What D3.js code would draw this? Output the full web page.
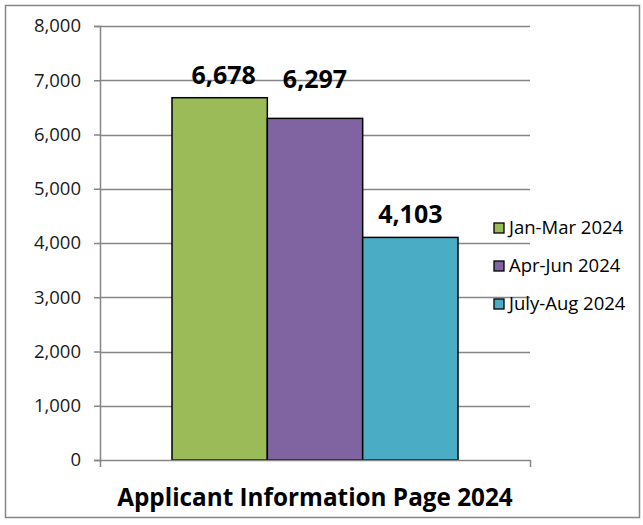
<!doctype html>
<html>
  <head>
    <meta charset="UTF-8">
    <title>Applicant Information Page 2024</title>
    <script src="https://d3js.org/d3.v7.min.js"></script>
    <style>
      body { margin: 0; background: #fff; }
      svg text { font-family: "Open Sans", Lato, sans-serif; fill: #000; }
      .tick text { font-size: 18.5px; fill: #1a1a1a; font-family: "Open Sans", Lato, sans-serif; }
    </style>
  </head>
  <body>
    <svg id="chart" width="643" height="525"></svg>
    <script>
      // chart data
      const categories = ["Jan-Mar 2024", "Apr-Jun 2024", "July-Aug 2024"];
      const values = [6678, 6297, 4103];
      const colors = ["#9bbb59", "#8064a2", "#4bacc6"];
      const yTicks = [0, 1000, 2000, 3000, 4000, 5000, 6000, 7000, 8000];
      const title = "Applicant Information Page 2024";

      const svg = d3.select("#chart");

      // outer frame
      svg.append("rect")
        .attr("x", 5.5).attr("y", 5.5)
        .attr("width", 634).attr("height", 512)
        .attr("fill", "#fff").attr("stroke", "#868686").attr("stroke-width", 1.5);

      const plot = { left: 100, right: 530, top: 26, bottom: 460 };

      const y = d3.scaleLinear().domain([0, 8000]).range([plot.bottom, plot.top]);
      // one group on the x axis, bars in the middle part
      const x = d3.scaleBand().domain(categories).range([172, 458]).padding(0);

      // gridlines
      svg.append("g")
        .selectAll("line")
        .data(yTicks.filter(d => d > 0))
        .join("line")
          .attr("x1", plot.left).attr("x2", plot.right)
          .attr("y1", d => Math.round(y(d)) + 0.5).attr("y2", d => Math.round(y(d)) + 0.5)
          .attr("stroke", "#868686").attr("stroke-width", 1.5);

      // bars
      svg.append("g")
        .selectAll("rect")
        .data(values)
        .join("rect")
          .attr("x", (d, i) => x(categories[i]))
          .attr("y", d => y(d))
          .attr("width", x.bandwidth())
          .attr("height", d => plot.bottom - y(d))
          .attr("fill", (d, i) => colors[i])
          .attr("stroke", "#000").attr("stroke-width", 1.5);

      // value labels (the middle one sits higher, as Excel placed it)
      const lift = [0, 16, 0];
      const shift = [4, 0, 0];
      svg.append("g")
        .selectAll("text")
        .data(values)
        .join("text")
          .attr("x", (d, i) => x(categories[i]) + x.bandwidth() / 2 + shift[i])
          .attr("y", (d, i) => y(d) - 14 - lift[i])
          .attr("text-anchor", "middle")
          .attr("font-size", 25).attr("font-weight", "bold")
          .text(d => d3.format(",")(d));

      // y axis
      const yAxis = svg.append("g")
        .attr("transform", `translate(${plot.left},0)`)
        .call(d3.axisLeft(y).tickValues(yTicks).tickFormat(d3.format(",")).tickSize(6).tickPadding(13));
      yAxis.selectAll("path, line").attr("stroke", "#868686").attr("stroke-width", 1.5);

      // x axis (single group, ticks at both ends)
      const xEdge = d3.scaleLinear().domain([0, 1]).range([plot.left, plot.right]);
      const xAxis = svg.append("g")
        .attr("transform", `translate(0,${plot.bottom})`)
        .call(d3.axisBottom(xEdge).tickValues([0, 1]).tickFormat("").tickSize(7).tickSizeOuter(0));
      xAxis.selectAll("path, line").attr("stroke", "#868686").attr("stroke-width", 1.5);

      // axis title
      svg.append("text")
        .attr("x", (plot.left + plot.right) / 2)
        .attr("y", 506)
        .attr("text-anchor", "middle")
        .attr("font-size", 24.3).attr("font-weight", "bold")
        .text(title);

      // legend
      const legend = svg.append("g").attr("transform", "translate(494,223)");
      const item = legend.selectAll("g")
        .data(categories)
        .join("g")
          .attr("transform", (d, i) => `translate(0,${i * 38})`);
      item.append("rect")
        .attr("width", 10).attr("height", 10)
        .attr("fill", (d, i) => colors[i])
        .attr("stroke", "#000").attr("stroke-width", 1.3);
      item.append("text")
        .attr("x", 15).attr("y", 11)
        .attr("font-size", 18.5).attr("fill", "#1a1a1a")
        .text(d => d);
    </script>
  </body>
</html>
